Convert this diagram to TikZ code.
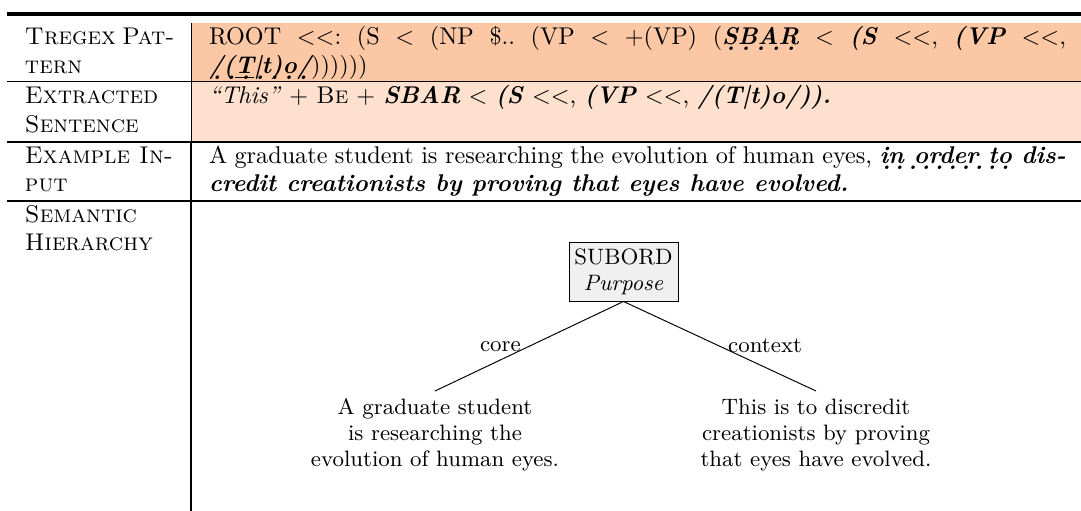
\documentclass[tikz,border=0pt]{standalone}
\newlength\px \setlength\px{0.4132pt}
\newcommand\bi[1]{\textbf{\textit{#1}}}
\newcommand\dotul[1]{\leavevmode\setbox0=\hbox{#1}\rlap{\lower 2.2pt\hbox to\wd0{\xleaders\hbox{\kern.09em.\kern.09em}\hfill}}\box0\relax}
\newcommand\treefont{\fontsize{9.2}{10.8}\selectfont}
\definecolor{peachA}{RGB}{251,199,165}
\definecolor{peachB}{RGB}{253,225,206}
\definecolor{boxgray}{RGB}{240,240,240}
\frenchspacing
\tikzset{
  cell/.style={anchor=base west, inner sep=0pt, outer sep=0pt},
  thinrule/.style={line width=1\px},
  midrule/.style={line width=2.2\px},
  toprule/.style={line width=4\px},
  relbox/.style={draw, fill=boxgray, align=center, font=\treefont, minimum width=109\px, minimum height=59\px, inner sep=2pt},
  leaf/.style={align=center, anchor=north, font=\treefont, inner sep=3pt},
  lab/.style={inner sep=3.3pt, font=\treefont}
}
\begin{document}
\begin{tikzpicture}[x=0.4132pt,y=-0.4132pt]
\useasboundingbox (0,0) rectangle (1081,511);
% row fills
\fill[peachA] (191,23) rectangle (1081,82);
\fill[peachB] (191,82) rectangle (1081,142);
% rules
\draw[toprule] (7,14) -- (1081,14);
\draw[thinrule] (7,82) -- (1081,82);
\draw[midrule] (7,142) -- (1081,142);
\draw[midrule] (7,201) -- (1081,201);
\draw[thinrule] (191,23) -- (191,142);
\draw[midrule] (191,142) -- (191,511);
% left column
\node[cell] (h1a) at (25,45) {\makebox[148\px][s]{\textsc{Tregex Pat-}}};
\node[cell] (h1b) at (25,74) {\textsc{tern}};
\node[cell] (h2a) at (25,104) {\textsc{Extracted}};
\node[cell] (h2b) at (25,133) {\textsc{Sentence}};
\node[cell] (h3a) at (25,164) {\makebox[148\px][s]{\textsc{Example In-}}};
\node[cell] (h3b) at (25,192) {\textsc{put}};
\node[cell] (h4a) at (25,223) {\textsc{Semantic}};
\node[cell] (h4b) at (25,251) {\textsc{Hierarchy}};
% right column
\node[cell] (r1a) at (209,45) {\makebox[857\px][s]{ROOT $<<$: (S $<$ (NP \$.. (VP $<$ +(VP) (\bi{\dotul{SBAR}} $<$ \bi{(S} $<<$, \bi{(VP} $<<$,}};
\node[cell] (r1b) at (209,74) {\bi{\dotul{/(\underline{T}\textbar t)o/}}))))))};
\node[cell] (r2a) at (209,104) {\textit{``This''} + \textsc{Be} + \bi{SBAR} $<$ \bi{(S} $<<$, \bi{(VP} $<<$, \bi{/(T\textbar t)o/)).}};
\node[cell] (r3a) at (209,164) {\makebox[857\px][s]{A graduate student is researching the evolution of human eyes, \bi{\dotul{in order to} dis-}}};
\node[cell] (r3b) at (209,192) {\bi{credit creationists by proving that eyes have evolved.}};
% tree
\node[relbox] (sub) at (623.5,271.5) {SUBORD\\\textit{Purpose}};
\node[leaf] (core) at (435,391) {A graduate student\\is researching the\\evolution of human eyes.};
\node[leaf] (ctx) at (816,391) {This is to discredit\\creationists by proving\\that eyes have evolved.};
\draw (sub.south) -- node[lab, anchor=east] (lcore) {core} (core.north);
\draw (sub.south) -- node[lab, anchor=west] (lctx) {context} (ctx.north);
\end{tikzpicture}
\end{document}
